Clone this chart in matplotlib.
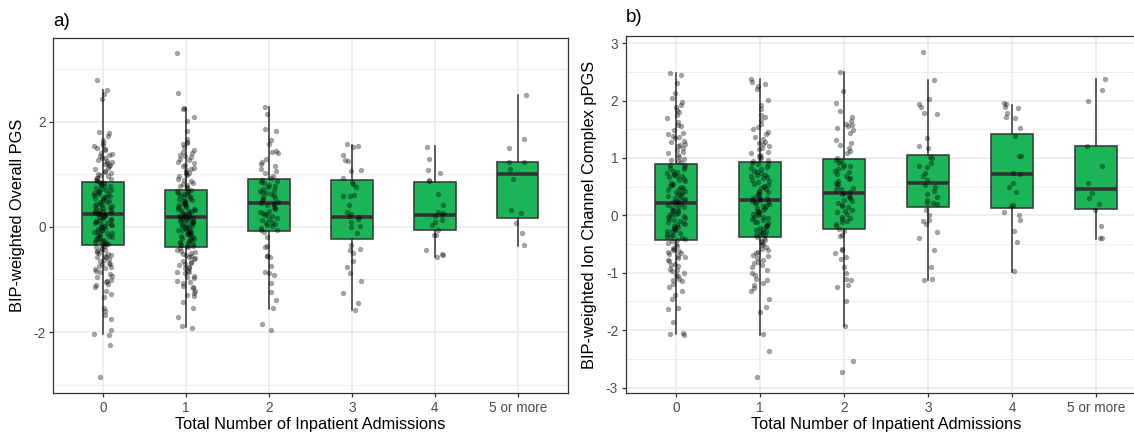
import numpy as np
import matplotlib.pyplot as plt
from matplotlib.ticker import MultipleLocator

plt.rcParams['font.family'] = ['Liberation Sans', 'DejaVu Sans']
plt.rcParams['axes.unicode_minus'] = False

categories = ['0', '1', '2', '3', '4', '5 or more']

# ---- panel a: BIP-weighted Overall PGS ----
a_cat0 = [2.79, 2.61, 2.53, 2.43, 1.81, 1.79, 1.73, 1.66, 1.6, 1.56, 1.53, 1.49, 1.46, 1.41, 1.37,
          1.34, 1.31, 1.28, 1.24, 1.21, 1.17, 1.15, 1.1, 1.07, 1.03, 1.01, 0.97, 0.94, 0.91, 0.88, 0.86,
          0.84, 0.81, 0.79, 0.77, 0.74, 0.71, 0.7, 0.67, 0.63, 0.62, 0.58, 0.56, 0.55, 0.51, 0.49,
          0.48, 0.44, 0.42, 0.39, 0.37, 0.36, 0.33, 0.31, 0.3, 0.28, 0.26, 0.25,
          0.23, 0.22, 0.19, 0.18, 0.15, 0.13, 0.1, 0.08, 0.07, 0.04, 0.02, -0.01, -0.03, -0.05,
          -0.06, -0.09, -0.11, -0.14, -0.15, -0.18, -0.2, -0.21, -0.24, -0.26, -0.27, -0.3, -0.32, -0.33,
          -0.36, -0.39, -0.42, -0.44, -0.47, -0.5, -0.53, -0.55, -0.58, -0.62, -0.65, -0.68, -0.71,
          -0.74, -0.78, -0.81, -0.86, -0.9, -0.96, -1.01, -1.05, -1.09, -1.14, -1.22, -1.28, -1.33,
          -1.54, -1.6, -1.68, -1.75, -1.96, -2.03, -2.05, -2.25, -2.86,
          1.5, 1.39, 1.32, 1.26, 1.19, 1.12, 1.05, 0.99, 0.93, 0.89, 0.83, 0.78, 0.73, 0.68, 0.65,
          0.6, 0.57, 0.53, 0.47, 0.43, 0.4, 0.35, 0.32, 0.27, 0.24, 0.21, 0.17, 0.14, 0.11, 0.06,
          0.03, 0.0, -0.04, -0.08, -0.12, -0.17, -0.22, -0.25, -0.29, -0.35, -0.4, -0.46, -0.52,
          -0.57, -0.63, -0.7, -0.76, -0.84, -0.93, -1.03, -1.11]
a_cat1 = [3.31, 2.54, 2.27, 2.25, 2.1, 2.02, 1.83, 1.67, 1.62, 1.59, 1.52, 1.46, 1.4, 1.37, 1.33,
          1.27, 1.22, 1.18, 1.12, 1.08, 1.05, 1.0, 0.96, 0.92, 0.89, 0.84, 0.8, 0.77, 0.74, 0.71,
          0.69, 0.66, 0.64, 0.62, 0.6, 0.58, 0.55, 0.52, 0.5, 0.47, 0.45, 0.44, 0.42, 0.39, 0.37,
          0.35, 0.33, 0.32, 0.3, 0.28, 0.27, 0.25, 0.23, 0.21, 0.2, 0.19,
          0.17, 0.15, 0.13, 0.12, 0.1, 0.08, 0.06, 0.03, 0.01, -0.02, -0.04, -0.05, -0.07, -0.09,
          -0.11, -0.14, -0.16, -0.19, -0.21, -0.23, -0.26, -0.28, -0.3, -0.33, -0.35, -0.37,
          -0.41, -0.44, -0.47, -0.5, -0.53, -0.57, -0.6, -0.64, -0.67, -0.69, -0.73, -0.76, -0.79,
          -0.83, -0.86, -0.88, -0.93, -0.98, -1.02, -1.07, -1.12, -1.17, -1.21, -1.26, -1.3, -1.32,
          -1.42, -1.55, -1.71, -1.88, -1.92,
          1.58, 1.43, 1.35, 1.3, 1.24, 1.15, 1.1, 1.03, 0.98, 0.87, 0.82, 0.75, 0.68, 0.63, 0.57,
          0.54, 0.49, 0.43, 0.38, 0.34, 0.29, 0.24, 0.18, 0.16, 0.14, 0.11, 0.07, 0.04, 0.0, -0.03,
          -0.06, -0.1, -0.13, -0.18, -0.22, -0.25, -0.31, -0.36, -0.39, -0.45, -0.52, -0.56, -0.62,
          -0.7, -0.78, -0.85, -0.95, -1.05, -1.15]
a_cat2 = [2.29, 2.14, 1.86, 1.83, 1.65, 1.45, 1.43, 1.24, 1.15, 1.1, 1.02, 0.96, 0.93,
          0.9, 0.86, 0.83, 0.8, 0.76, 0.72, 0.69, 0.66, 0.62, 0.6, 0.57, 0.53, 0.5, 0.48, 0.46,
          0.43, 0.41, 0.38, 0.34, 0.3, 0.27, 0.25, 0.2, 0.17, 0.13, 0.1, 0.07, 0.04, 0.01, -0.03, -0.06,
          -0.1, -0.37, -0.38, -0.55, -0.56, -0.75, -0.86, -0.88, -1.07, -1.23, -1.39, -1.55, -1.85, -1.97,
          1.58, 1.41, 1.3, 1.19, 1.06, 0.88, 0.78, 0.7, 0.64, 0.55, 0.44, 0.36, 0.28, 0.22, 0.15,
          0.05, -0.05, -0.2, -0.58, -0.92]
a_cat3 = [1.57, 1.54, 1.52, 1.37, 1.27, 1.25, 1.08, 1.07, 0.93, 0.86, 0.82, 0.75, 0.6, 0.59, 0.58,
          0.42, 0.29, 0.25, 0.2, 0.18, 0.15, 0.09, 0.01, 0.0, -0.12, -0.34, -0.42, -0.43, -0.5,
          -0.65, -0.77, -0.88, -1.02, -1.26, -1.45, -1.59]
a_cat4 = [1.52, 1.29, 1.08, 1.03, 0.89, 0.87, 0.62, 0.42, 0.29, 0.27, 0.23, 0.2, 0.13, 0.1, 0.04,
          -0.06, -0.16, -0.16, -0.44, -0.52, -0.53, -0.58]
a_cat5 = [2.51, 1.68, 1.51, 1.24, 1.23, 1.11, 0.91, 0.32, 0.26, 0.08, -0.11, -0.35]
a_points = [a_cat0, a_cat1, a_cat2, a_cat3, a_cat4, a_cat5]

# box statistics: q1, median, q3, lower whisker, upper whisker
a_q1 = [-0.337, -0.38, -0.076, -0.235, -0.057, 0.178]
a_med = [0.24, 0.18, 0.45, 0.185, 0.23, 1.015]
a_q3 = [0.857, 0.705, 0.92, 0.895, 0.857, 1.24]
a_wlo = [-2.04, -1.9, -1.56, -1.59, -0.565, -0.355]
a_whi = [2.61, 2.26, 2.28, 1.56, 1.54, 2.51]

# ---- panel b: BIP-weighted Ion Channel Complex pPGS ----
b_cat0 = [2.48, 2.45, 2.31, 2.13, 2.04, 1.98, 1.93, 1.89, 1.84, 1.75, 1.69, 1.63, 1.57, 1.49, 1.43,
          1.38, 1.34, 1.28, 1.25, 1.22, 1.17, 1.11, 1.08, 1.05, 0.99, 0.96, 0.93,
          0.88, 0.85, 0.82, 0.78, 0.75, 0.72, 0.7, 0.68, 0.66, 0.62, 0.6, 0.57, 0.53, 0.5, 0.48,
          0.46, 0.45, 0.41, 0.39, 0.36, 0.33, 0.3, 0.28, 0.27, 0.25, 0.23,
          0.2, 0.18, 0.15, 0.12, 0.1, 0.07, 0.04, 0.02, 0.0, -0.01, -0.04, -0.06, -0.09, -0.12,
          -0.15, -0.17, -0.19, -0.2, -0.23, -0.25, -0.28, -0.31, -0.34, -0.36, -0.39, -0.41,
          -0.45, -0.49, -0.53, -0.58, -0.62, -0.66, -0.7, -0.75, -0.79, -0.84, -0.88, -0.93, -0.97,
          -1.01, -1.06, -1.1, -1.15, -1.19, -1.31, -1.38, -1.45, -1.62, -1.64, -1.86, -2.05, -2.07, -2.09,
          1.8, 1.55, 1.41, 1.36, 1.3, 1.2, 1.14, 1.02, 0.94, 0.87, 0.8, 0.74, 0.69, 0.63, 0.55,
          0.51, 0.43, 0.37, 0.31, 0.24, 0.19, 0.13, 0.08, 0.03, -0.03, -0.08, -0.14, -0.22, -0.27,
          -0.33, -0.38, -0.43, -0.5, -0.56, -0.6, -0.64, -0.68, -0.72, -0.77, -0.86, -0.95, -1.04,
          -1.13, -1.24]
b_cat1 = [2.38, 2.33, 2.26, 2.2, 2.01, 1.92, 1.86, 1.75, 1.66, 1.6, 1.54, 1.46, 1.42, 1.37, 1.28,
          1.24, 1.2, 1.15, 1.11, 1.06, 1.02, 0.98, 0.95,
          0.92, 0.89, 0.85, 0.81, 0.78, 0.74, 0.71, 0.69, 0.65, 0.62, 0.58, 0.55, 0.52, 0.49, 0.46,
          0.43, 0.4, 0.37, 0.34, 0.31, 0.29, 0.27,
          0.24, 0.22, 0.19, 0.16, 0.13, 0.1, 0.08, 0.05, 0.02, 0.0, -0.03, -0.05, -0.08, -0.11,
          -0.14, -0.16, -0.19, -0.22, -0.25, -0.27, -0.3, -0.33, -0.35,
          -0.4, -0.43, -0.46, -0.5, -0.55, -0.6, -0.66, -0.71, -0.78, -0.83, -0.87, -0.96, -1.04,
          -1.13, -1.22, -1.31, -1.45, -1.6, -1.68, -2.06, -2.36, -2.82,
          2.28, 1.72, 1.5, 1.33, 1.26, 1.18, 1.09, 1.04, 0.97, 0.9, 0.83, 0.76, 0.7, 0.67, 0.6,
          0.53, 0.47, 0.41, 0.35, 0.3, 0.25, 0.21, 0.17, 0.12, 0.06, 0.03, -0.02, -0.07, -0.12,
          -0.18, -0.24, -0.29, -0.34, -0.38, -0.45, -0.52, -0.58, -0.64, -0.69, -0.75, -0.81, -0.9,
          -1.0, -1.11, -1.18, -1.27]
b_cat2 = [2.5, 2.16, 1.81, 1.72, 1.6, 1.57, 1.56, 1.52, 1.43, 1.31, 1.22, 1.17, 1.08, 1.0,
          0.97, 0.92, 0.88, 0.84, 0.8, 0.77, 0.72, 0.68, 0.63, 0.59, 0.55, 0.51, 0.48, 0.44, 0.41,
          0.37, 0.34, 0.3, 0.27, 0.22, 0.18, 0.14, 0.1, 0.06, 0.02, -0.02, -0.06, -0.1, -0.15, -0.19, -0.23,
          -0.35, -0.36, -0.58, -0.6, -0.72, -0.76, -0.9, -1.01, -1.1, -1.12, -1.22, -1.25, -1.49,
          -1.92, -2.53, -2.73,
          1.95, 1.64, 1.48, 1.26, 1.12, 0.95, 0.86, 0.75, 0.65, 0.57, 0.46, 0.39, 0.32, 0.25, 0.16,
          0.08, -0.04, -0.12, -0.28, -0.66]
b_cat3 = [2.85, 2.36, 2.03, 1.94, 1.89, 1.78, 1.77, 1.34, 1.21, 1.17, 1.01, 1.0, 0.91, 0.86, 0.85,
          0.74, 0.68, 0.61, 0.53, 0.49, 0.43, 0.38, 0.32, 0.27, 0.22, 0.21, 0.2, 0.09, 0.0, -0.08,
          -0.1, -0.15, -0.29, -0.39, -0.61, -0.9, -1.1, -1.12]
b_cat4 = [1.95, 1.94, 1.89, 1.87, 1.79, 1.71, 1.69, 1.52, 1.38, 1.03, 1.03, 0.73, 0.72, 0.56, 0.49,
          0.41, 0.18, 0.17, 0.06, 0.0, -0.08, -0.28, -0.46, -0.97]
b_cat5 = [2.38, 2.18, 2.0, 1.2, 0.86, 0.56, 0.39, 0.31, 0.2, 0.09, -0.18, -0.39, -0.4]
b_points = [b_cat0, b_cat1, b_cat2, b_cat3, b_cat4, b_cat5]

b_q1 = [-0.424, -0.372, -0.244, 0.151, 0.134, 0.105]
b_med = [0.215, 0.26, 0.39, 0.57, 0.727, 0.465]
b_q3 = [0.90, 0.936, 0.99, 1.047, 1.41, 1.2]
b_wlo = [-2.06, -2.08, -1.92, -1.12, -0.99, -0.407]
b_whi = [2.48, 2.38, 2.5, 2.355, 1.92, 2.38]

GREEN = '#1bb557'
DARK = '#333333'
GRID = '#ebebeb'

W, H = 1134, 434
fig = plt.figure(figsize=(W / 100, H / 100), dpi=100)


def jitter(n, seed):
    # deterministic horizontal spread for the points, width +-0.11
    k = np.arange(n)
    h = np.sin(k * 12.9898 + seed * 78.233) * 43758.5453
    return ((h - np.floor(h)) - 0.5) * 0.22


def draw_panel(ax, points, q1, med, q3, wlo, whi, ylim, major, minor):
    stats = []
    for i in range(len(categories)):
        stats.append({'q1': q1[i], 'med': med[i], 'q3': q3[i],
                      'whislo': wlo[i], 'whishi': whi[i], 'fliers': []})
    pos = np.arange(len(categories))
    ax.bxp(stats, positions=pos, widths=0.5, patch_artist=True, showcaps=False,
           showfliers=False,
           boxprops=dict(facecolor=GREEN, edgecolor=DARK, linewidth=1.1),
           medianprops=dict(color=DARK, linewidth=2.6),
           whiskerprops=dict(color=DARK, linewidth=1.1), zorder=2)
    for i, vals in enumerate(points):
        ax.scatter(pos[i] + jitter(len(vals), i + 1), vals, s=15, color='black',
                   alpha=0.36, linewidths=0, zorder=3)
    ax.set_xlim(-0.6, 5.6)
    ax.set_ylim(*ylim)
    ax.set_xticks(pos)
    ax.set_xticklabels(categories)
    ax.yaxis.set_major_locator(MultipleLocator(major))
    ax.yaxis.set_minor_locator(MultipleLocator(minor))
    ax.grid(True, which='major', color=GRID, linewidth=1.1, zorder=0)
    ax.grid(True, which='minor', axis='y', color=GRID, linewidth=0.6, zorder=0)
    ax.set_axisbelow(True)
    ax.tick_params(axis='both', which='major', length=3, width=0.9, color=DARK,
                   labelcolor='#4d4d4d', labelsize=9.8, pad=2.5)
    ax.tick_params(axis='y', which='minor', length=0)
    for sp in ax.spines.values():
        sp.set_color(DARK)
        sp.set_linewidth(0.9)


ax_a = fig.add_axes([53.3 / W, (H - 393) / H, 514.2 / W, 355.3 / H])
draw_panel(ax_a, a_points, a_q1, a_med, a_q3, a_wlo, a_whi, (-3.16, 3.6), 2, 1)

ax_b = fig.add_axes([625.7 / W, (H - 393.3) / H, 520.8 / W, 357.6 / H])
draw_panel(ax_b, b_points, b_q1, b_med, b_q3, b_wlo, b_whi, (-3.1, 3.13), 1, 0.5)

fig.text(310.4 / W, (H - 424) / H, 'Total Number of Inpatient Admissions',
         ha='center', va='center', fontsize=11.8)
fig.text(885.9 / W, (H - 424) / H, 'Total Number of Inpatient Admissions',
         ha='center', va='center', fontsize=11.8)
fig.text(18 / W, (H - 215.4) / H, 'BIP-weighted Overall PGS', rotation=90,
         ha='center', va='center', fontsize=11.8)
fig.text(589.5 / W, (H - 214.5) / H, 'BIP-weighted Ion Channel Complex pPGS', rotation=90,
         ha='center', va='center', fontsize=11.8)
fig.text(53.3 / W, (H - 21.3) / H, 'a)', ha='left', va='center', fontsize=13.5)
fig.text(625.7 / W, (H - 17.5) / H, 'b)', ha='left', va='center', fontsize=13.5)

fig.savefig('out.png', dpi=100)
